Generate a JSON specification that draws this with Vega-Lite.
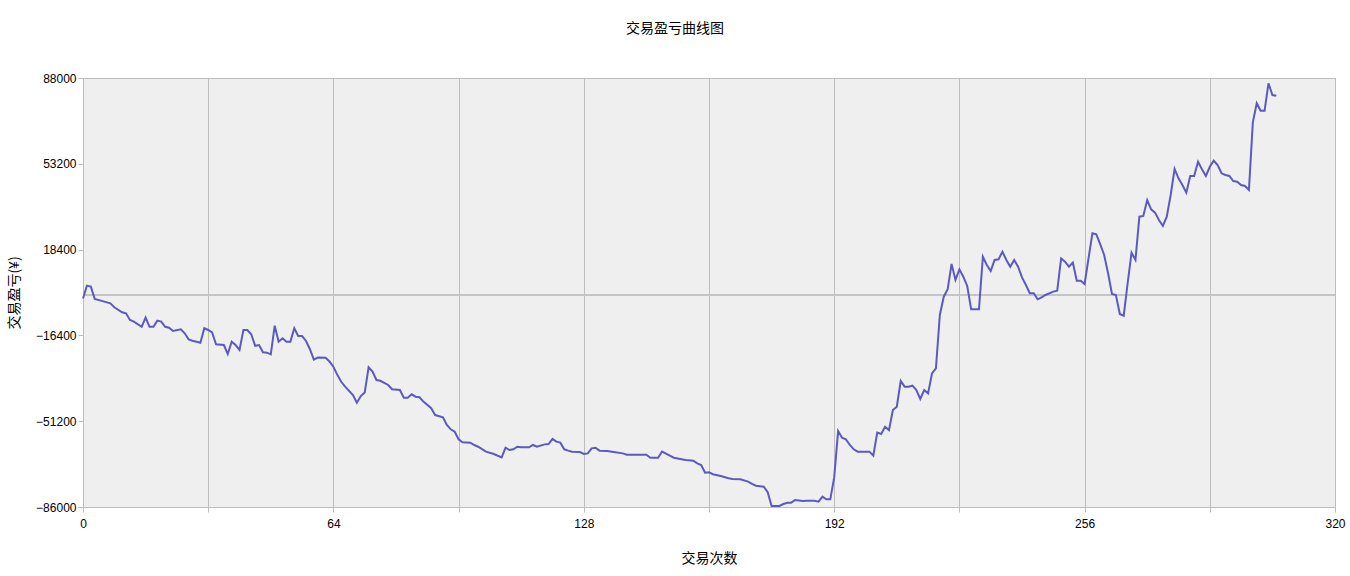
{
  "$schema": "https://vega.github.io/schema/vega-lite/v6.json",
  "autosize": "none",
  "width": 1252,
  "height": 429,
  "padding": {"left": 83, "top": 78, "right": 15, "bottom": 69},
  "background": "white",
  "title": {
    "text": "交易盈亏曲线图",
    "font": "Noto Sans CJK SC",
    "fontSize": 14,
    "fontWeight": "normal",
    "color": "#000000",
    "anchor": "middle",
    "frame": "group",
    "dx": -34,
    "offset": 36
  },
  "config": {
    "view": {"fill": "#EFEFEF", "stroke": "#BDBDBD", "strokeWidth": 1},
    "axis": {
      "labelFont": "Liberation Sans",
      "labelFontSize": 12,
      "labelColor": "#000000",
      "titleFont": "Noto Sans CJK SC",
      "titleFontSize": 14,
      "titleFontWeight": "normal",
      "titleColor": "#000000",
      "gridColor": "#BDBDBD",
      "gridOpacity": 1,
      "tickColor": "#BDBDBD",
      "tickSize": 5,
      "domain": false
    }
  },
  "data": {
    "values": [
      {"n": 0, "v": -1400}, {"n": 1, "v": 3800}, {"n": 2, "v": 3400}, {"n": 3, "v": -1600},
      {"n": 5, "v": -2500}, {"n": 7, "v": -3400}, {"n": 8, "v": -5000}, {"n": 10, "v": -7000},
      {"n": 11, "v": -7450}, {"n": 12, "v": -10150}, {"n": 13, "v": -10800}, {"n": 15, "v": -12900},
      {"n": 16, "v": -9200}, {"n": 17, "v": -12900}, {"n": 18, "v": -12900}, {"n": 19, "v": -10400},
      {"n": 20, "v": -10800}, {"n": 21, "v": -12900}, {"n": 22, "v": -13300}, {"n": 23, "v": -14600},
      {"n": 25, "v": -13900}, {"n": 26, "v": -15550}, {"n": 27, "v": -18000}, {"n": 28, "v": -18550},
      {"n": 30, "v": -19350}, {"n": 31, "v": -13500}, {"n": 32, "v": -14200}, {"n": 33, "v": -15150},
      {"n": 34, "v": -20000}, {"n": 36, "v": -20300}, {"n": 37, "v": -23950}, {"n": 38, "v": -18950},
      {"n": 39, "v": -20300}, {"n": 40, "v": -22300}, {"n": 41, "v": -14200}, {"n": 42, "v": -14200},
      {"n": 43, "v": -15950}, {"n": 44, "v": -20600}, {"n": 45, "v": -20300}, {"n": 46, "v": -23250},
      {"n": 47, "v": -23400}, {"n": 48, "v": -24100}, {"n": 49, "v": -12450}, {"n": 50, "v": -18950},
      {"n": 51, "v": -17600}, {"n": 52, "v": -18950}, {"n": 53, "v": -18950}, {"n": 54, "v": -13500},
      {"n": 55, "v": -16650}, {"n": 56, "v": -16650}, {"n": 57, "v": -18650}, {"n": 58, "v": -22000},
      {"n": 59, "v": -26200}, {"n": 60, "v": -25400}, {"n": 62, "v": -25500}, {"n": 63, "v": -27000},
      {"n": 64, "v": -29100}, {"n": 65, "v": -32400}, {"n": 66, "v": -35200}, {"n": 67, "v": -37200},
      {"n": 69, "v": -40600}, {"n": 70, "v": -43700}, {"n": 71, "v": -41000}, {"n": 72, "v": -39600},
      {"n": 73, "v": -29350}, {"n": 74, "v": -31100}, {"n": 75, "v": -34500}, {"n": 76, "v": -34800},
      {"n": 78, "v": -36500}, {"n": 79, "v": -38250}, {"n": 81, "v": -38550}, {"n": 82, "v": -41650},
      {"n": 83, "v": -41650}, {"n": 84, "v": -40300}, {"n": 85, "v": -41250}, {"n": 86, "v": -41500},
      {"n": 87, "v": -43250}, {"n": 89, "v": -45950}, {"n": 90, "v": -48700}, {"n": 92, "v": -49600},
      {"n": 93, "v": -52750}, {"n": 94, "v": -54500}, {"n": 95, "v": -55450}, {"n": 96, "v": -58550},
      {"n": 97, "v": -59750}, {"n": 99, "v": -59900}, {"n": 100, "v": -60850}, {"n": 101, "v": -61550},
      {"n": 103, "v": -63550}, {"n": 105, "v": -64500}, {"n": 107, "v": -65850}, {"n": 108, "v": -61950},
      {"n": 109, "v": -62900}, {"n": 110, "v": -62600}, {"n": 111, "v": -61550}, {"n": 112, "v": -61800},
      {"n": 114, "v": -61800}, {"n": 115, "v": -60850}, {"n": 116, "v": -61550}, {"n": 118, "v": -60600},
      {"n": 119, "v": -60450}, {"n": 120, "v": -58400}, {"n": 121, "v": -59500}, {"n": 122, "v": -59900},
      {"n": 123, "v": -62600}, {"n": 124, "v": -63150}, {"n": 125, "v": -63550}, {"n": 127, "v": -63700},
      {"n": 128, "v": -64500}, {"n": 129, "v": -64250}, {"n": 130, "v": -62200}, {"n": 131, "v": -61950},
      {"n": 132, "v": -63150}, {"n": 134, "v": -63300}, {"n": 136, "v": -63800}, {"n": 138, "v": -64250},
      {"n": 139, "v": -64800}, {"n": 142, "v": -64800}, {"n": 144, "v": -64800}, {"n": 145, "v": -66000},
      {"n": 147, "v": -66000}, {"n": 148, "v": -63500}, {"n": 150, "v": -65200}, {"n": 151, "v": -66000},
      {"n": 153, "v": -66650}, {"n": 154, "v": -66950}, {"n": 156, "v": -67200}, {"n": 157, "v": -68300},
      {"n": 158, "v": -68950}, {"n": 159, "v": -72100}, {"n": 160, "v": -71900}, {"n": 161, "v": -72700},
      {"n": 163, "v": -73400}, {"n": 165, "v": -74350}, {"n": 166, "v": -74650}, {"n": 168, "v": -74750},
      {"n": 170, "v": -75700}, {"n": 171, "v": -76650}, {"n": 172, "v": -77350}, {"n": 174, "v": -77750},
      {"n": 175, "v": -80000}, {"n": 176, "v": -85600}, {"n": 178, "v": -85600}, {"n": 179, "v": -84800},
      {"n": 180, "v": -84250}, {"n": 181, "v": -84250}, {"n": 182, "v": -83150}, {"n": 184, "v": -83550},
      {"n": 185, "v": -83450}, {"n": 187, "v": -83450}, {"n": 188, "v": -83850}, {"n": 189, "v": -81800},
      {"n": 190, "v": -82900}, {"n": 191, "v": -82900}, {"n": 192, "v": -74000}, {"n": 193, "v": -55200},
      {"n": 194, "v": -57900}, {"n": 195, "v": -58550}, {"n": 196, "v": -60850}, {"n": 197, "v": -62600},
      {"n": 198, "v": -63550}, {"n": 200, "v": -63550}, {"n": 201, "v": -63550}, {"n": 202, "v": -65200},
      {"n": 203, "v": -55850}, {"n": 204, "v": -56400}, {"n": 205, "v": -53450}, {"n": 206, "v": -54800},
      {"n": 207, "v": -46650}, {"n": 208, "v": -45300}, {"n": 209, "v": -34900}, {"n": 210, "v": -37200},
      {"n": 211, "v": -37200}, {"n": 212, "v": -36800}, {"n": 213, "v": -38550}, {"n": 214, "v": -42200},
      {"n": 215, "v": -38550}, {"n": 216, "v": -39900}, {"n": 217, "v": -31800}, {"n": 218, "v": -29750},
      {"n": 219, "v": -8100}, {"n": 220, "v": -700}, {"n": 221, "v": 2300}, {"n": 222, "v": 12550},
      {"n": 223, "v": 6100}, {"n": 224, "v": 10400}, {"n": 225, "v": 7400}, {"n": 226, "v": 3650},
      {"n": 227, "v": -5800}, {"n": 229, "v": -5800}, {"n": 230, "v": 15500}, {"n": 231, "v": 12150},
      {"n": 232, "v": 9700}, {"n": 233, "v": 14200}, {"n": 234, "v": 14450}, {"n": 235, "v": 17550},
      {"n": 236, "v": 14200}, {"n": 237, "v": 11450}, {"n": 238, "v": 14200}, {"n": 239, "v": 11450},
      {"n": 240, "v": 7150}, {"n": 241, "v": 4050}, {"n": 242, "v": 700}, {"n": 243, "v": 700},
      {"n": 244, "v": -1750}, {"n": 245, "v": -950}, {"n": 246, "v": 0}, {"n": 248, "v": 1350},
      {"n": 249, "v": 1750}, {"n": 250, "v": 14850}, {"n": 251, "v": 13500}, {"n": 252, "v": 11450},
      {"n": 253, "v": 13100}, {"n": 254, "v": 5800}, {"n": 255, "v": 5800}, {"n": 256, "v": 4450},
      {"n": 257, "v": 14850}, {"n": 258, "v": 25000}, {"n": 259, "v": 24600}, {"n": 260, "v": 20500},
      {"n": 261, "v": 16200}, {"n": 262, "v": 8800}, {"n": 263, "v": 400}, {"n": 264, "v": -50},
      {"n": 265, "v": -7700}, {"n": 266, "v": -8400}, {"n": 267, "v": 4750}, {"n": 268, "v": 17150},
      {"n": 269, "v": 14200}, {"n": 270, "v": 31750}, {"n": 271, "v": 32050}, {"n": 272, "v": 38500},
      {"n": 273, "v": 34750}, {"n": 274, "v": 33400}, {"n": 275, "v": 30400}, {"n": 276, "v": 28000},
      {"n": 277, "v": 31750}, {"n": 278, "v": 40550}, {"n": 279, "v": 51100}, {"n": 280, "v": 47300},
      {"n": 281, "v": 44600}, {"n": 282, "v": 41500}, {"n": 283, "v": 48250}, {"n": 284, "v": 48250},
      {"n": 285, "v": 54050}, {"n": 286, "v": 50950}, {"n": 287, "v": 48250}, {"n": 288, "v": 52000},
      {"n": 289, "v": 54450}, {"n": 290, "v": 52700}, {"n": 291, "v": 49350}, {"n": 292, "v": 48650},
      {"n": 293, "v": 48250}, {"n": 294, "v": 46200}, {"n": 295, "v": 45950}, {"n": 296, "v": 44600},
      {"n": 297, "v": 44200}, {"n": 298, "v": 42600}, {"n": 299, "v": 70000}, {"n": 300, "v": 77750},
      {"n": 301, "v": 74750}, {"n": 302, "v": 74750}, {"n": 303, "v": 85850}, {"n": 304, "v": 81100},
      {"n": 305, "v": 80800}
    ]
  },
  "layer": [
    {
      "mark": {"type": "rule", "color": "#C4C4C4", "strokeWidth": 1},
      "encoding": {"y": {"datum": 0}}
    },
    {
      "mark": {"type": "line", "color": "#5A5AC2", "strokeWidth": 2},
      "encoding": {
        "x": {
          "field": "n",
          "type": "quantitative",
          "title": "交易次数",
          "scale": {"domain": [0, 320], "nice": false},
          "axis": {
            "values": [0, 32, 64, 96, 128, 160, 192, 224, 256, 288, 320],
            "labelExpr": "datum.value % 64 === 0 ? datum.label : ''",
            "labelPadding": 6,
            "titlePadding": 22,
            "labelFlush": false
          }
        },
        "y": {
          "field": "v",
          "type": "quantitative",
          "title": "交易盈亏(¥)",
          "scale": {"domain": [-86000, 88000], "nice": false, "zero": false},
          "axis": {
            "values": [-86000, -51200, -16400, 18400, 53200, 88000],
            "format": "d",
            "labelPadding": 2,
            "titlePadding": 14
          }
        }
      }
    }
  ]
}
